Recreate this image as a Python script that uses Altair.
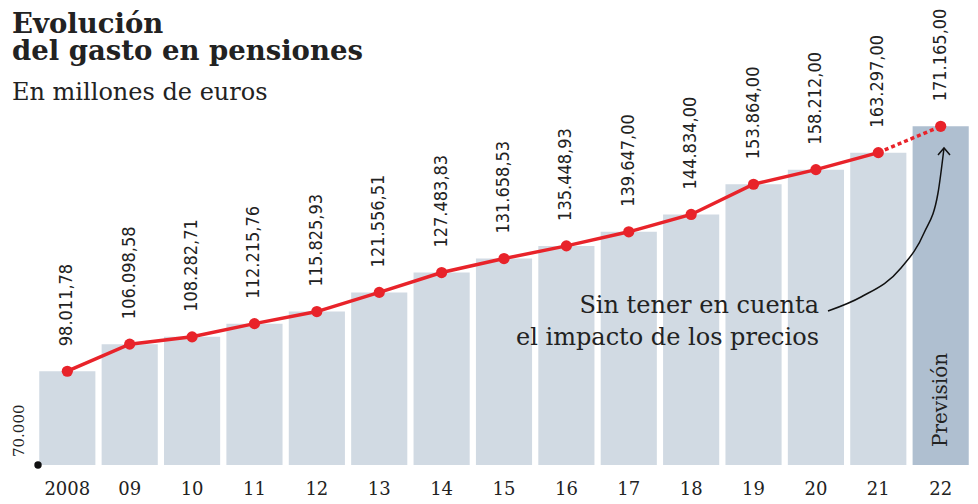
import altair as alt
import pandas as pd

# ---- data ----
years = ["2008", "09", "10", "11", "12", "13", "14", "15", "16", "17", "18", "19", "20", "21", "22"]
values = [98011.78, 106098.58, 108282.71, 112215.76, 115825.93, 121556.51, 127483.83,
          131658.53, 135448.93, 139647.00, 144834.00, 153864.00, 158212.00, 163297.00, 171165.00]
labels = ["98.011,78", "106.098,58", "108.282,71", "112.215,76", "115.825,93", "121.556,51",
          "127.483,83", "131.658,53", "135.448,93", "139.647,00", "144.834,00", "153.864,00",
          "158.212,00", "163.297,00", "171.165,00"]
kinds = ["real"] * 14 + ["prevision"]

# curved annotation arrow (plot pixel coordinates)
arrow_x = [790, 823, 863, 886, 900, 906]
arrow_y = [303, 289, 260, 225, 185, 140]
head_x = [900, 906, 912]
head_y = [147, 140, 147]

W, H = 932, 457
YMIN = 70000
YDOM = [YMIN, 206500]
RED = "#e8232a"
INK = "#222222"
SERIF = "DejaVu Serif"
NARROW = "'DejaVu Sans Condensed', 'Liberation Sans Narrow', 'Roboto', sans-serif"

df = pd.DataFrame({"year": years, "value": values, "label": labels, "kind": kinds})
df["base"] = YMIN
solid = df[df["year"] != "22"]
dotted = df[df["year"].isin(["21", "22"])]

xs = alt.Scale(domain=years, paddingInner=0.1, paddingOuter=0.02)
ys = alt.Scale(domain=YDOM, zero=False, nice=False)
xaxis = alt.Axis(title=None, labelAngle=0, domain=False, ticks=False, grid=False,
                 labelFont=SERIF, labelFontSize=18, labelColor=INK, labelPadding=15)
X = alt.X("year:N", sort=years, scale=xs, axis=xaxis)
Y = alt.Y("value:Q", scale=ys, axis=None)

bars = alt.Chart(df).mark_bar().encode(
    x=X, y=Y, y2="base:Q",
    color=alt.Color("kind:N", scale=alt.Scale(domain=["real", "prevision"],
                                              range=["#d1dae3", "#afbfd0"]), legend=None),
)
line = alt.Chart(solid).mark_line(color=RED, strokeWidth=3.5).encode(x=X, y=Y)
dline = alt.Chart(dotted).mark_line(color=RED, strokeWidth=3.5, strokeDash=[4, 3]).encode(x=X, y=Y)
pts = alt.Chart(df).mark_circle(size=125, color=RED, opacity=1).encode(x=X, y=Y)
vals = alt.Chart(df).mark_text(angle=270, align="left", baseline="middle", dx=25,
                               font=NARROW, fontSize=18, color=INK).encode(x=X, y=Y, text="label:N")

prev = alt.Chart(pd.DataFrame({"year": ["22"], "t": ["Previsión"]})).mark_text(
    angle=270, align="left", baseline="middle", font=SERIF, fontSize=20, color=INK
).encode(x=X, y=alt.value(439), text="t:N")

origin_df = pd.DataFrame({"value": [YMIN], "t": ["70.000"]})
origin = alt.Chart(origin_df).mark_circle(size=55, color="#111", opacity=1).encode(
    x=alt.value(0), y=Y)
origin_lbl = alt.Chart(origin_df).mark_text(angle=270, align="left", baseline="middle", dx=8,
                                            font=SERIF, fontSize=15, color=INK).encode(
    x=alt.value(-19), y=Y, text="t:N")

def txt(s, x, y, size, weight="normal", align="left", lh=None):
    kw = dict(align=align, baseline="alphabetic", font=SERIF, fontSize=size,
              fontWeight=weight, color=INK, lineBreak="|")
    if lh:
        kw["lineHeight"] = lh
    return alt.Chart(pd.DataFrame({"t": [s]})).mark_text(**kw).encode(
        x=alt.value(x), y=alt.value(y), text="t:N")

title = txt("Evolución|del gasto en pensiones", -26, 25, 27.5, "bold", lh=27)
sub = txt("En millones de euros", -26, 92, 24)
note = txt("Sin tener en cuenta|el impacto de los precios", 781, 305, 24, align="right", lh=32)

main = alt.layer(bars, line, dline, pts, vals, prev, origin, origin_lbl, title, sub, note)

arrow_df = pd.DataFrame({"px": arrow_x, "py": arrow_y, "i": list(range(len(arrow_x)))})
head_df = pd.DataFrame({"px": head_x, "py": head_y, "i": list(range(len(head_x)))})
AX = alt.X("px:Q", scale=alt.Scale(domain=[0, W], nice=False, zero=False), axis=None)
AY = alt.Y("py:Q", scale=alt.Scale(domain=[0, H], nice=False, zero=False, reverse=True), axis=None)
arrow = alt.Chart(arrow_df).mark_line(color="#111", strokeWidth=1.5, interpolate="monotone").encode(
    x=AX, y=AY, order="i:Q")
head = alt.Chart(head_df).mark_line(color="#111", strokeWidth=1.5).encode(x=AX, y=AY, order="i:Q")
arrows = alt.layer(arrow, head)

chart = alt.layer(main, arrows).resolve_scale(x="independent", y="independent").properties(
    width=W, height=H,
    autosize=alt.AutoSizeParams(type="none"),
    padding={"left": 30, "top": 0, "right": 0, "bottom": 39},
    background="white",
).configure_view(stroke=None)

chart.save("out.html", embed_options={"renderer": "svg", "actions": False})
